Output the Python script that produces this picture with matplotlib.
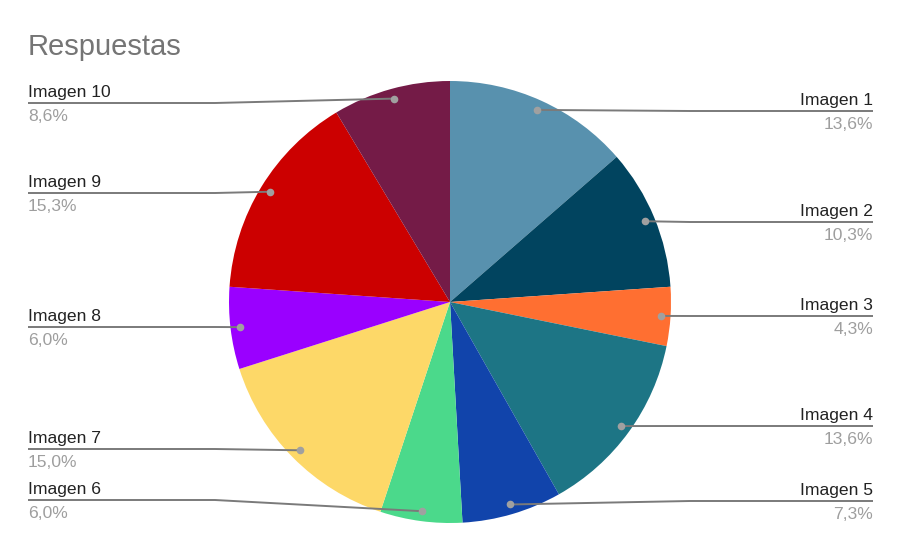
import numpy as np
import matplotlib
matplotlib.use("Agg")
import matplotlib.pyplot as plt

# Data
labels = ["Imagen 1", "Imagen 2", "Imagen 3", "Imagen 4", "Imagen 5",
          "Imagen 6", "Imagen 7", "Imagen 8", "Imagen 9", "Imagen 10"]
values = [13.6, 10.3, 4.3, 13.6, 7.3, 6.0, 15.0, 6.0, 15.3, 8.6]
colors = ["#5891ae", "#01445f", "#ff6f31", "#1d7585", "#1144ab",
          "#4bd98b", "#fdd868", "#9a00ff", "#cc0000", "#741b47"]

W, H = 901, 551
fig = plt.figure(figsize=(W / 100, H / 100), dpi=100)
ax = fig.add_axes([0, 0, 1, 1])

def py(y):
    """Convert a top-down pixel row to axis y."""
    return H - y

font = "Liberation Sans"
cx, cy, R = 450, 302, 221

wedges, _ = ax.pie(values, colors=colors, startangle=90, counterclock=False,
                   radius=R, center=(cx, py(cy)),
                   wedgeprops=dict(linewidth=0), frame=True)
ax.set_xlim(0, W)
ax.set_ylim(0, H)
ax.set_aspect("equal")
ax.axis("off")

ax.text(28, py(47), "Respuestas", fontsize=21, color="#757575",
        family=font, va="center", ha="left")

# Label rows (pixel rows of the leader's horizontal part)
label_rows = [111, 222, 316, 426, 501, 500, 449, 327, 193, 103]
right_x, left_x = 873, 28
line_col = "#7a7a7a"
dot_col = "#a0a0a0"

for w, lab, val, row in zip(wedges, labels, values, label_rows):
    ang = np.deg2rad((w.theta1 + w.theta2) / 2)
    dx = cx + 0.955 * R * np.cos(ang)
    dy = py(cy) + 0.955 * R * np.sin(ang)
    right = np.cos(ang) > 0
    if right:
        elbow = max(dx + 20, 690)
        xs = [dx, elbow, right_x]
        tx, ha = right_x, "right"
    else:
        elbow = min(dx - 20, 215)
        xs = [dx, elbow, left_x]
        tx, ha = left_x, "left"
    ax.plot(xs, [dy, py(row), py(row)], color=line_col, lw=1.4,
            solid_capstyle="butt", zorder=3)
    ax.plot([dx], [dy], "o", ms=5.5, color=dot_col, mec="none", zorder=4)
    ax.text(tx, py(row) + 3, lab, fontsize=12.6, color="#222222",
            family=font, ha=ha, va="bottom")
    ax.text(tx, py(row) - 6, f"{val:.1f}%".replace(".", ","), fontsize=12.6,
            color="#9e9e9e", family=font, ha=ha, va="top")

fig.savefig("out.png", dpi=100, facecolor="white")
